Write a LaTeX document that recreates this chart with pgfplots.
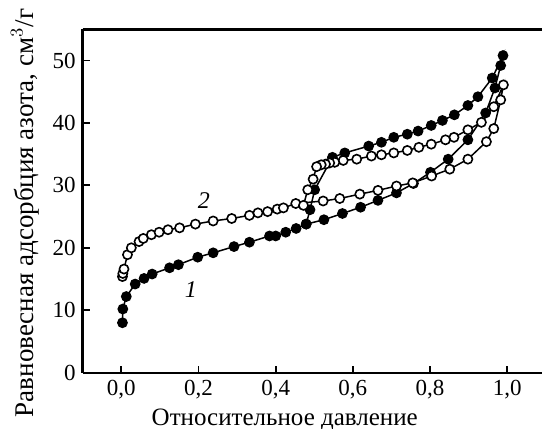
\documentclass[border=0pt]{standalone}
\usepackage{fontspec}
\setmainfont{Liberation Serif}
\usepackage{pgfplots}
\pgfplotsset{compat=1.18}
\begin{document}
\begin{tikzpicture}
\begin{axis}[
  scale only axis,
  width=229.65pt, height=171.7pt,
  xmin=-0.1, xmax=1.09, ymin=0, ymax=55,
  axis x line*=box, axis y line*=left,
  axis line style={line width=1.2pt},
  tick align=inside,
  major tick length=3.5pt,
  every tick/.style={line width=0.9pt, black},
  xtick={0,0.2,0.4,0.6,0.8,1.0},
  ytick={0,10,20,30,40,50},
  xtick pos=bottom, ytick pos=left,
  /pgf/number format/assume math mode=true,
  xticklabel style={/pgf/number format/.cd, fixed, fixed zerofill, precision=1, use comma},
  ticklabel style={font=\fontsize{11.5}{13}\selectfont},
  xlabel={Относительное давление},
  ylabel={Равновесная адсорбция азота, см$^3$/г},
  xlabel style={at={(ticklabel cs:0.44)}, font=\fontsize{12.5}{14}\selectfont, yshift=1.5pt},
  ylabel style={at={(ticklabel cs:0.468)}, font=\fontsize{13.5}{15}\selectfont, xshift=-0.5pt},
  clip=false,
]
\path (rel axis cs:0,0) coordinate (A) (rel axis cs:1,1) coordinate (B);
\addplot[black, line width=0.75pt, mark=*, mark size=2.3pt, mark options={fill=black, solid}] coordinates {
(0.003,8.0) (0.004,10.2) (0.013,12.2) (0.036,14.2) (0.059,15.1) (0.080,15.8)
(0.125,16.8) (0.148,17.3) (0.198,18.5) (0.238,19.2) (0.292,20.2) (0.332,20.9)
(0.384,21.9) (0.400,21.9) (0.426,22.5) (0.453,23.1) (0.479,23.8) (0.525,24.5)
(0.573,25.5) (0.620,26.5) (0.665,27.6) (0.713,28.8) (0.757,30.3) (0.801,32.1)
(0.847,34.2) (0.898,37.3) (0.944,41.6) (0.968,45.6) (0.983,49.2) (0.989,50.8)
(0.961,47.2) (0.924,44.2) (0.898,42.8) (0.863,41.3) (0.832,40.4) (0.803,39.6)
(0.769,38.7) (0.741,38.2) (0.706,37.7) (0.674,36.9) (0.641,36.3) (0.579,35.2)
(0.547,34.5) (0.501,29.3) (0.489,26.1) (0.479,23.8)
};
\addplot[black, line width=0.75pt, mark=*, mark size=2.3pt, mark options={fill=white, solid, line width=0.8pt}] coordinates {
(0.003,15.4) (0.004,15.9) (0.007,16.6) (0.016,18.9) (0.026,20.0) (0.046,21.0)
(0.057,21.5) (0.078,22.1) (0.098,22.5) (0.121,22.9) (0.151,23.2) (0.192,23.8)
(0.238,24.3) (0.286,24.7) (0.332,25.2) (0.354,25.6) (0.379,25.8) (0.404,26.2)
(0.420,26.4) (0.452,27.1) (0.523,27.5) (0.566,27.9) (0.618,28.6) (0.665,29.2)
(0.713,29.9) (0.755,30.4) (0.804,31.5) (0.851,32.6) (0.898,34.2) (0.946,37.0)
(0.965,39.1) (0.983,43.7) (0.990,46.1)
(0.965,42.6) (0.933,40.1) (0.898,38.9) (0.862,37.7) (0.840,37.3) (0.803,36.6)
(0.771,36.1) (0.741,35.6) (0.706,35.2) (0.674,34.9) (0.648,34.7) (0.610,34.2)
(0.575,34.0) (0.553,33.7) (0.540,33.6) (0.529,33.4) (0.518,33.3) (0.506,33.0)
(0.497,31.0) (0.483,29.3) (0.472,26.8)
};
\node[font=\itshape\fontsize{12}{14}\selectfont] at (axis cs:0.18,13.3) {1};
\node[font=\itshape\fontsize{12}{14}\selectfont] at (axis cs:0.214,27.5) {2};
\end{axis}
\pgfresetboundingbox
\useasboundingbox ([xshift=-41.35pt,yshift=-28.15pt]A) rectangle ([yshift=14.65pt]B);
\end{tikzpicture}
\end{document}
